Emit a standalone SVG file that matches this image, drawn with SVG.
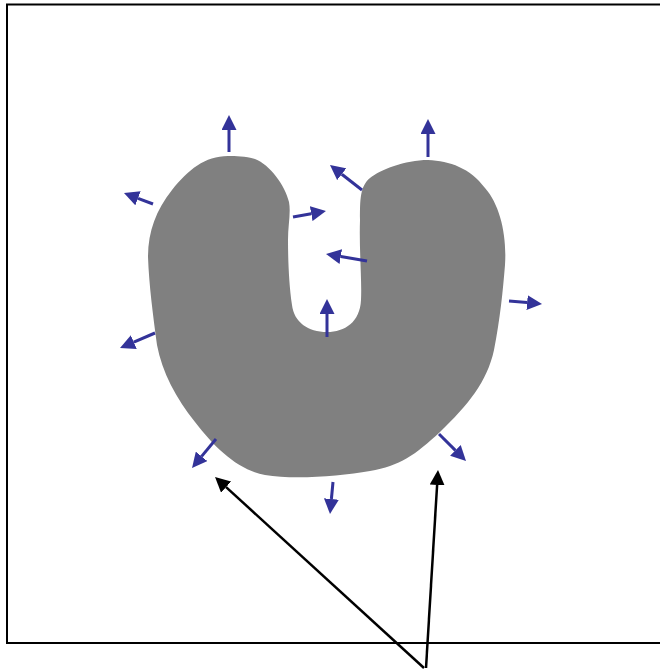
<svg xmlns="http://www.w3.org/2000/svg" width="660" height="672" viewBox="0 0 660 672">
<style>
.frame{fill:none;stroke:#000;stroke-width:2}
.shape{fill:#808080;stroke:none}
.n{stroke:#333399;stroke-width:3;fill:none;marker-end:url(#bh)}
.k{stroke:#000;stroke-width:2.5;fill:none;marker-end:url(#kh)}
</style>
<defs>
<marker id="bh" markerUnits="userSpaceOnUse" markerWidth="15" markerHeight="15" viewBox="0 0 10 10" refX="0" refY="5" orient="auto"><path d="M0,0 L10,5 L0,10 z" fill="#333399"/></marker>
<marker id="kh" markerUnits="userSpaceOnUse" markerWidth="15" markerHeight="15" viewBox="0 0 10 10" refX="0" refY="5" orient="auto"><path d="M0,0 L10,5 L0,10 z" fill="#000"/></marker>
</defs>
<rect class="frame" x="7" y="4.5" width="700" height="638.5"/>
<g id="u-shape">
<path class="shape" d="M228,156 C205,156 188,170 172,190 C156,210 148,232 148,257 C149,285 153,315 157,345 C162,372 176,398 195,422 C215,448 238,470 265,475 C295,480 340,476 370,471 C400,466 415,455 440,432 C468,405 487,382 494,350 C500,320 503,290 505,265 C507,235 500,205 485,188 C470,168 450,161 428,160 C405,160 380,170 370,178 C360,186 360,200 360,220 C359,250 362,280 361,300 C360,322 345,332 327,332 C308,332 294,322 292,305 C289,285 288,260 288,240 C288,225 291,213 289,202 C285,185 270,165 255,159 C245,156 236,156 228,156 Z"/>
</g>
<g id="connectors">
<line class="n" x1="229" y1="152" x2="229" y2="130"/>
<line class="n" x1="153" y1="204" x2="138" y2="198.3"/>
<line class="n" x1="293" y1="217" x2="311.2" y2="213.7"/>
<line class="n" x1="362" y1="190" x2="341.8" y2="174.2"/>
<line class="n" x1="428" y1="157" x2="428" y2="134"/>
<line class="n" x1="367" y1="261" x2="340.8" y2="256.5"/>
<line class="n" x1="327" y1="337" x2="327" y2="314"/>
<line class="n" x1="509" y1="301" x2="527.1" y2="302.6"/>
<line class="n" x1="155" y1="333" x2="133.8" y2="342.1"/>
<line class="n" x1="216" y1="439" x2="201.6" y2="456.4"/>
<line class="n" x1="333" y1="482" x2="331.4" y2="499"/>
<line class="n" x1="439" y1="434" x2="455.4" y2="450.4"/>
<line class="k" x1="424" y1="668" x2="226.1" y2="487.1"/>
<line class="k" x1="426" y1="668" x2="437.1" y2="485"/>
</g>
</svg>
